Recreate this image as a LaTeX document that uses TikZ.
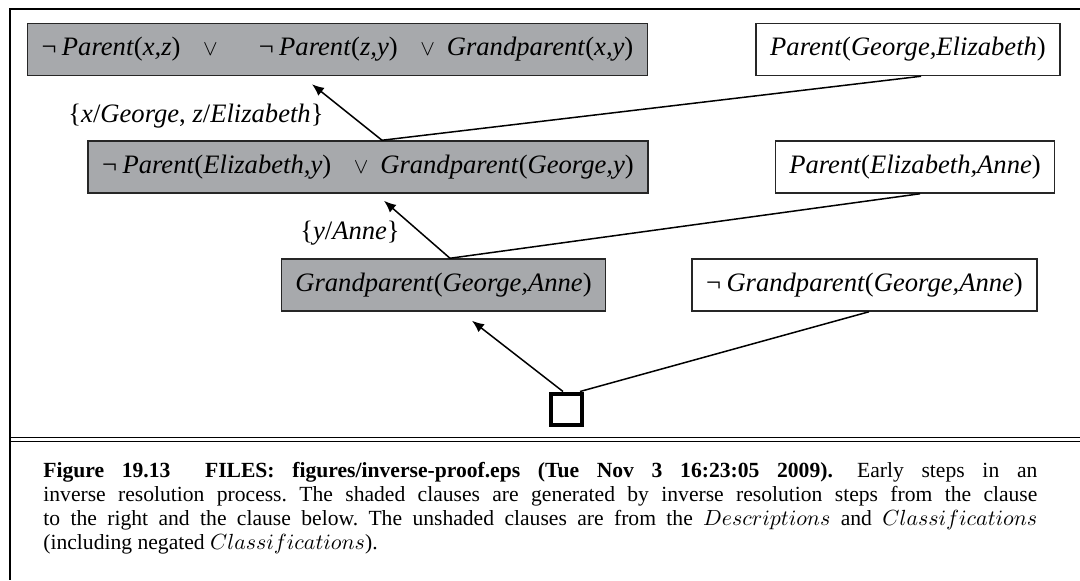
\documentclass[tikz,border=0pt]{standalone}
\usepackage{fontspec}
\setmainfont{Liberation Serif}
\usetikzlibrary{arrows.meta}
\definecolor{shade}{RGB}{167,169,172}
\newcommand{\lit}[2]{\textit{#1}(\textit{#2})}
\newcommand{\orsym}{\hspace{0.85em}{\fontsize{11}{11}\selectfont$\vee$}\hspace{0.45em}}
\newcommand{\negsym}{¬\hspace{0.2em}}

\begin{document}
\frenchspacing
\begin{tikzpicture}[x=0.5pt, y=-0.5pt,
  clause/.style={draw=black!85, line width=0.75pt, inner xsep=7pt, minimum height=26pt,
    font=\fontsize{13.3}{16}\selectfont},
  shaded/.style={clause, fill=shade},
  link/.style={line width=0.75pt},
  infer/.style={link, -{Latex[length=6pt,width=5pt]}},
  subst/.style={font=\fontsize{13.3}{16}\selectfont}]
  \useasboundingbox (0,0) rectangle (1080,580);

  % Frame
  \draw[line width=1pt] (1080,8.5) -- (10,8.5) -- (10,580);
  \draw[line width=0.75pt] (10,437.5) -- (1080,437.5) (10,441.5) -- (1080,441.5);

  % Shaded clauses
  \node[shaded] (gen1) at (337.5,49.5) {\negsym\lit{Parent}{x,z}\orsym\hspace{1.1em}\negsym\lit{Parent}{z,y}\orsym\lit{Grandparent}{x,y}};
  \node[shaded] (gen2) at (368,167) {\negsym\lit{Parent}{Elizabeth,y}\orsym\lit{Grandparent}{George,y}};
  \node[shaded] (gen3) at (443.5,285) {\lit{Grandparent}{George,Anne}};

  % Given clauses
  \node[clause] (fact1) at (908,49.5) {\lit{Parent}{George,Elizabeth}};
  \node[clause] (fact2) at (915,167) {\lit{Parent}{Elizabeth,Anne}};
  \node[clause] (goal) at (864.5,285) {\negsym\lit{Grandparent}{George,Anne}};

  % Empty clause
  \node[draw, line width=2pt, minimum size=15.5pt, inner sep=0pt] (empty) at (566.5,409) {};

  % Resolution steps
  \draw[infer] ([xshift=7pt]gen2.north) -- ([xshift=-12.75pt,yshift=-4pt]gen1.south);
  \draw[link] ([xshift=6.5pt]fact1.south) -- ([xshift=7pt]gen2.north);
  \draw[infer] ([xshift=3.25pt]gen3.north) -- ([xshift=8pt,yshift=-3.5pt]gen2.south);
  \draw[link] ([xshift=2.5pt]fact2.south) -- ([xshift=3.25pt]gen3.north);
  \draw[infer] ([xshift=-1.75pt]empty.north) -- ([xshift=14.25pt,yshift=-4.5pt]gen3.south);
  \draw[link] ([xshift=2.25pt]goal.south) -- ([xshift=6.75pt]empty.north);

  % Substitutions
  \node[subst] (theta1) at (196,116) {\{\textit{x}/\textit{George}, \textit{z}/\textit{Elizabeth}\}};
  \node[subst] (theta2) at (350,233) {\{\textit{y}/\textit{Anne}\}};

  % Caption
  \node[anchor=north west, inner sep=0pt, text width=497pt, align=justify,
    font=\fontsize{10.8}{12}\selectfont] (caption) at (43,462)
    {\textbf{Figure 19.13}\hspace{1.6em}\textbf{FILES: figures/inverse-proof.eps (Tue Nov 3 16:23:05 2009).}\hspace{0.3em} Early steps in an\linebreak
     inverse resolution process. The shaded clauses are generated by inverse resolution steps from the clause\linebreak
     to the right and the clause below. The unshaded clauses are from the $Descriptions$ and $Classifications$\linebreak
     (including negated $Classifications$).};
\end{tikzpicture}
\end{document}
